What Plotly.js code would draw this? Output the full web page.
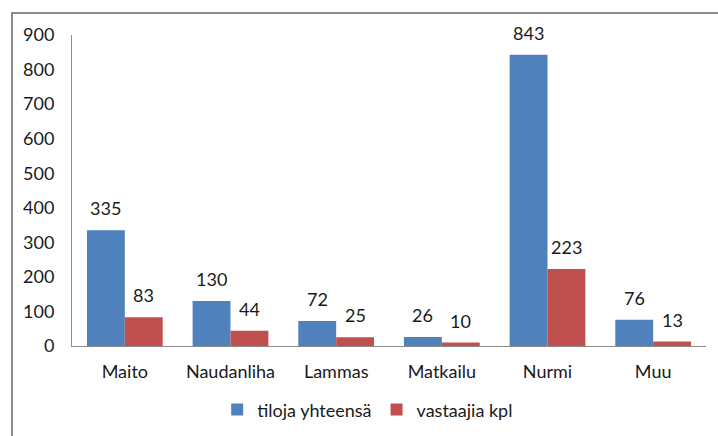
<!DOCTYPE html>
<html>
<head>
<meta charset="utf-8">
<script src="https://cdn.plot.ly/plotly-3.0.1.min.js"></script>
<style>
html,body{margin:0;padding:0;background:#fff;}
#wrap{position:relative;width:718px;height:436px;}
#chart{width:718px;height:436px;}
#frame{position:absolute;left:11px;top:12px;width:720px;height:440px;border-left:2px solid #8c8c8c;border-top:2px solid #8c8c8c;pointer-events:none;}
</style>
</head>
<body>
<div id="wrap"><div id="chart"></div><div id="frame"></div></div>
<script>
const categories = ["Maito", "Naudanliha", "Lammas", "Matkailu", "Nurmi", "Muu"];
const seriesNames = ["tiloja yhteensä", "vastaajia kpl"];
const tilojaYhteensa = [335, 130, 72, 26, 843, 76];
const vastaajiaKpl = [83, 44, 25, 10, 223, 13];
const yTicks = [0, 100, 200, 300, 400, 500, 600, 700, 800, 900];

const FONT = "Lato, 'Open Sans', sans-serif";
const colors = ["#4F81BD", "#C0504D"];
const series = [tilojaYhteensa, vastaajiaKpl];

const traces = series.map((vals, i) => ({
  type: "bar",
  name: seriesNames[i],
  x: categories,
  y: vals,
  marker: {color: colors[i], line: {width: 0}},
  hoverinfo: "x+y"
}));

const annotations = [];
series.forEach((vals, i) => {
  vals.forEach((v, j) => {
    annotations.push({
      x: categories[j], y: v, xref: "x", yref: "y",
      text: String(v), showarrow: false,
      xshift: i === 0 ? -19 : 19, yshift: 9, yanchor: "bottom",
      font: {family: FONT, size: 18, color: "#1a1a1a"}
    });
  });
});

const layout = {
  width: 718, height: 436,
  margin: {l: 72, r: 12, t: 35, b: 90},
  paper_bgcolor: "#fff", plot_bgcolor: "#fff",
  barmode: "group",
  bargap: 0.283, bargroupgap: 0,
  showlegend: true,
  legend: {orientation: "h", x: 0.229, xanchor: "left", yref: "container", y: 0.06, yanchor: "middle",
           font: {family: FONT, size: 18, color: "#1a1a1a"}, itemwidth: 30},
  xaxis: {type: "category", showgrid: false, showline: true, linecolor: "#8c8c8c", linewidth: 1,
          ticks: "", tickfont: {family: FONT, size: 18, color: "#1a1a1a"}, ticklabelstandoff: 9,
          zeroline: false, automargin: false},
  yaxis: {range: [0, 900], tickvals: yTicks, showgrid: false, showline: true, linecolor: "#8c8c8c",
          linewidth: 1, ticks: "", tickfont: {family: FONT, size: 18, color: "#1a1a1a"},
          ticklabelstandoff: 13, zeroline: false, automargin: false},
  annotations: annotations
};

Plotly.newPlot("chart", traces, layout, {displayModeBar: false, staticPlot: true});
</script>
</body>
</html>
